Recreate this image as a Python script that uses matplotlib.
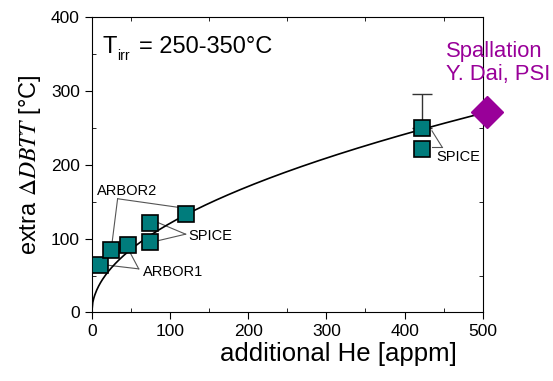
import numpy as np
import matplotlib.pyplot as plt
from matplotlib.ticker import MultipleLocator

plt.rcParams['font.family'] = ['Liberation Sans', 'DejaVu Sans']
plt.rcParams['mathtext.fontset'] = 'stix'

# measured points (He in appm, extra DBTT shift in C)
he = [10, 25, 46, 74, 74, 120, 422, 422]
dbtt = [64, 84, 91, 121, 96, 134, 250, 221]

# error bar on upper SPICE point
err_he = 422
err_val = 250
err_up = 46

# spallation point
spall_he = 505
spall_val = 271

# fit: dDBTT = a * sqrt(He)
fit_a = 12.07

teal = '#007c7c'
purple = '#990099'

fig = plt.figure(figsize=(5.53, 3.81), dpi=100)
ax = fig.add_axes([0.166, 0.18, 0.707, 0.775])

xf = np.linspace(0, 500, 400)
ax.plot(xf, fit_a * np.sqrt(xf), color='black', lw=1.2, zorder=2)

ax.errorbar([err_he], [err_val], yerr=[[0], [err_up]], fmt='none',
            ecolor='#333333', elinewidth=1, capsize=7, zorder=1)
ax.plot(he, dbtt, 's', ms=11.5, mfc=teal, mec='black', mew=1.2, zorder=3)
ax.plot([spall_he], [spall_val], 'D', ms=16, color=purple, clip_on=False, zorder=4)

# annotation leader lines
lc = '#555555'
fs = 10.5
ax.text(7, 165, 'ARBOR2', fontsize=fs, va='center')
ax.plot([33, 26], [154, 95], color=lc, lw=0.8, zorder=1)
ax.plot([33, 113], [154, 142], color=lc, lw=0.8, zorder=1)
ax.text(65, 55, 'ARBOR1', fontsize=fs, va='center')
ax.plot([60, 20], [59, 64], color=lc, lw=0.8, zorder=1)
ax.plot([60, 49], [59, 81], color=lc, lw=0.8, zorder=1)
ax.text(124, 104, 'SPICE', fontsize=fs, va='center')
ax.plot([120, 84], [106, 122], color=lc, lw=0.8, zorder=1)
ax.plot([120, 84], [106, 97], color=lc, lw=0.8, zorder=1)
ax.text(440, 210, 'SPICE', fontsize=fs, va='center')
ax.plot([448, 435], [224, 246], color=lc, lw=0.8, zorder=1)
ax.plot([448, 435], [224, 224], color=lc, lw=0.8, zorder=1)

# T_irr label: T, small lowered subscript, then the range
ax.text(14, 351, 'T', fontsize=17, va='baseline')
ax.annotate('irr', (14, 351), xytext=(10.5, -4.5), textcoords='offset points',
            fontsize=10, va='baseline')
ax.annotate('= 250-350°C', (14, 351), xytext=(26, 0), textcoords='offset points',
            fontsize=17, va='baseline')

ax.text(453, 338, 'Spallation\nY. Dai, PSI', fontsize=15.8, color=purple,
        ha='left', va='center', linespacing=1.1, clip_on=False)

ax.set_xlim(0, 500)
ax.set_ylim(0, 400)
ax.xaxis.set_major_locator(MultipleLocator(100))
ax.yaxis.set_major_locator(MultipleLocator(100))
ax.xaxis.set_minor_locator(MultipleLocator(50))
ax.yaxis.set_minor_locator(MultipleLocator(50))
ax.tick_params(which='major', direction='out', length=5, labelsize=12.5)
ax.tick_params(which='minor', direction='in', length=3, top=True, right=True)

ax.set_xlabel('additional He [appm]', fontsize=18.5)
ax.xaxis.set_label_coords(0.63, -0.1)
ax.set_ylabel(r'extra $\Delta DBTT$ [°C]', fontsize=17, labelpad=6)

fig.savefig('out.png', dpi=100)
